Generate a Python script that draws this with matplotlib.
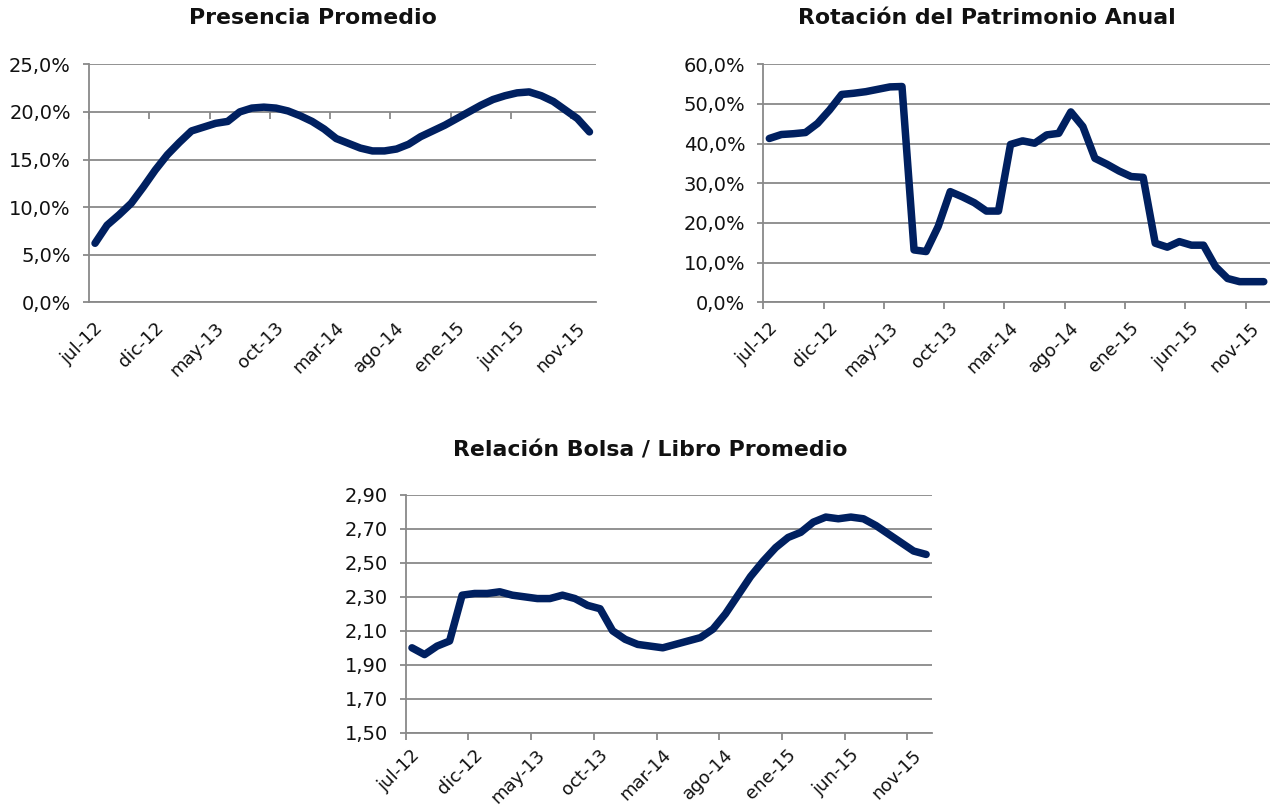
import matplotlib
matplotlib.use('Agg')
import matplotlib.pyplot as plt
from matplotlib.ticker import FixedLocator, FuncFormatter, NullFormatter

categories = ['jul-12', 'ago-12', 'sep-12', 'oct-12', 'nov-12', 'dic-12',
              'ene-13', 'feb-13', 'mar-13', 'abr-13', 'may-13', 'jun-13',
              'jul-13', 'ago-13', 'sep-13', 'oct-13', 'nov-13', 'dic-13',
              'ene-14', 'feb-14', 'mar-14', 'abr-14', 'may-14', 'jun-14',
              'jul-14', 'ago-14', 'sep-14', 'oct-14', 'nov-14', 'dic-14',
              'ene-15', 'feb-15', 'mar-15', 'abr-15', 'may-15', 'jun-15',
              'jul-15', 'ago-15', 'sep-15', 'oct-15', 'nov-15', 'dic-15']

tick_labels = ['jul-12', 'dic-12', 'may-13', 'oct-13', 'mar-14', 'ago-14',
               'ene-15', 'jun-15', 'nov-15']

presencia = [6.2, 8.1, 9.2, 10.4, 12.1, 13.9, 15.5, 16.8, 18.0, 18.4, 18.8, 19.0,
             20.0, 20.4, 20.5, 20.4, 20.1, 19.6, 19.0, 18.2, 17.2, 16.7, 16.2, 15.9,
             15.9, 16.1, 16.6, 17.4, 18.0, 18.6, 19.3, 20.0, 20.7, 21.3, 21.7, 22.0,
             22.1, 21.7, 21.1, 20.2, 19.3, 17.9]

rotacion = [41.3, 42.3, 42.5, 42.8, 45.1, 48.5, 52.4, 52.7, 53.1, 53.7, 54.3, 54.4,
            13.2, 12.8, 19.1, 27.9, 26.6, 25.1, 23.0, 23.0, 39.8, 40.7, 40.1, 42.2,
            42.6, 48.0, 44.3, 36.3, 34.8, 33.1, 31.7, 31.5, 14.9, 13.9, 15.3, 14.4,
            14.4, 9.0, 6.0, 5.2, 5.2, 5.2]

bolsa = [2.00, 1.96, 2.01, 2.04, 2.31, 2.32, 2.32, 2.33, 2.31, 2.30, 2.29, 2.29,
         2.31, 2.29, 2.25, 2.23, 2.10, 2.05, 2.02, 2.01, 2.00, 2.02, 2.04, 2.06,
         2.11, 2.20, 2.31, 2.42, 2.51, 2.59, 2.65, 2.68, 2.74, 2.77, 2.76, 2.77,
         2.76, 2.72, 2.67, 2.62, 2.57, 2.55]

yticks_presencia = [0, 5, 10, 15, 20, 25]
yticks_rotacion = [0, 10, 20, 30, 40, 50, 60]
yticks_bolsa = [1.50, 1.70, 1.90, 2.10, 2.30, 2.50, 2.70, 2.90]

titles = ['Presencia Promedio', 'Rotación del Patrimonio Anual',
          'Relación Bolsa / Libro Promedio']

LINE = '#002060'
GRID = '#898989'
TXT = '#111111'

plt.rcParams['font.family'] = ['DejaVu Sans']

fig = plt.figure(figsize=(12.7, 8.07), dpi=100)
W, H = 1270.0, 807.0


def make_ax(x0, ytop, x1, ybot):
    return fig.add_axes([x0 / W, 1 - ybot / H, (x1 - x0) / W, (ybot - ytop) / H])


def style(ax, values, yticks, fmt, tick_frac, xpad=12):
    n = len(values)
    x = list(range(n))
    ax.plot(x, values, color=LINE, lw=5.4, solid_joinstyle='round',
            solid_capstyle='round', zorder=3, clip_on=False)
    ax.set_xlim(-0.5, n - 0.5)
    ax.set_ylim(yticks[0], yticks[-1])
    ax.yaxis.set_major_locator(FixedLocator(yticks))
    ax.yaxis.set_major_formatter(FuncFormatter(fmt))
    ax.grid(axis='y', color=GRID, lw=1.3, zorder=1)
    for s in ['top', 'right']:
        ax.spines[s].set_visible(False)
    for s in ['left', 'bottom']:
        ax.spines[s].set_color(GRID)
        ax.spines[s].set_linewidth(1.3)
    ax.tick_params(axis='y', which='major', length=4.5, width=1.3, color=GRID,
                   labelsize=14, labelcolor=TXT, pad=8.5)
    pos = [categories.index(t) for t in tick_labels]
    ax.xaxis.set_major_locator(FixedLocator([p - 0.1 for p in pos]))
    ax.set_xticklabels(tick_labels, rotation=45, ha='right',
                       rotation_mode='anchor', fontsize=13, color=TXT)
    ax.tick_params(axis='x', which='major', length=0, pad=xpad)
    bounds = [p - 0.5 for p in pos]
    if tick_frac == 0:
        ax.xaxis.set_minor_locator(FixedLocator(bounds))
        ax.xaxis.set_minor_formatter(NullFormatter())
        ax.tick_params(axis='x', which='minor', length=5, width=1.3,
                       color=GRID, direction='out')
    else:
        sec = ax.secondary_xaxis(tick_frac)
        sec.set_xticks(bounds)
        sec.set_xticklabels([''] * len(bounds))
        sec.tick_params(axis='x', which='major', length=5, width=1.3,
                        color=GRID, direction='in')
        for s in sec.spines.values():
            s.set_visible(False)
    ax.set_facecolor('none')


pct = lambda v, p: ('%.1f%%' % v).replace('.', ',')
dec = lambda v, p: ('%.2f' % v).replace('.', ',')

ax1 = make_ax(89, 64.3, 595.5, 302.3)
style(ax1, presencia, yticks_presencia, pct, 0.8)

ax2 = make_ax(763.3, 64.3, 1269.8, 302.3)
style(ax2, rotacion, yticks_rotacion, pct, 0)

ax3 = make_ax(405.7, 495, 932.4, 732.7)
style(ax3, bolsa, yticks_bolsa, dec, 0, xpad=9.5)

fig.text(313 / W, 1 - 18 / H, titles[0], ha='center', va='center',
         fontsize=15.8, fontweight='bold', color=TXT)
fig.text(987 / W, 1 - 18 / H, titles[1], ha='center', va='center',
         fontsize=15.8, fontweight='bold', color=TXT)
fig.text(650 / W, 1 - 450 / H, titles[2], ha='center', va='center',
         fontsize=15.8, fontweight='bold', color=TXT)

fig.savefig('out.png', dpi=100, facecolor='white')
